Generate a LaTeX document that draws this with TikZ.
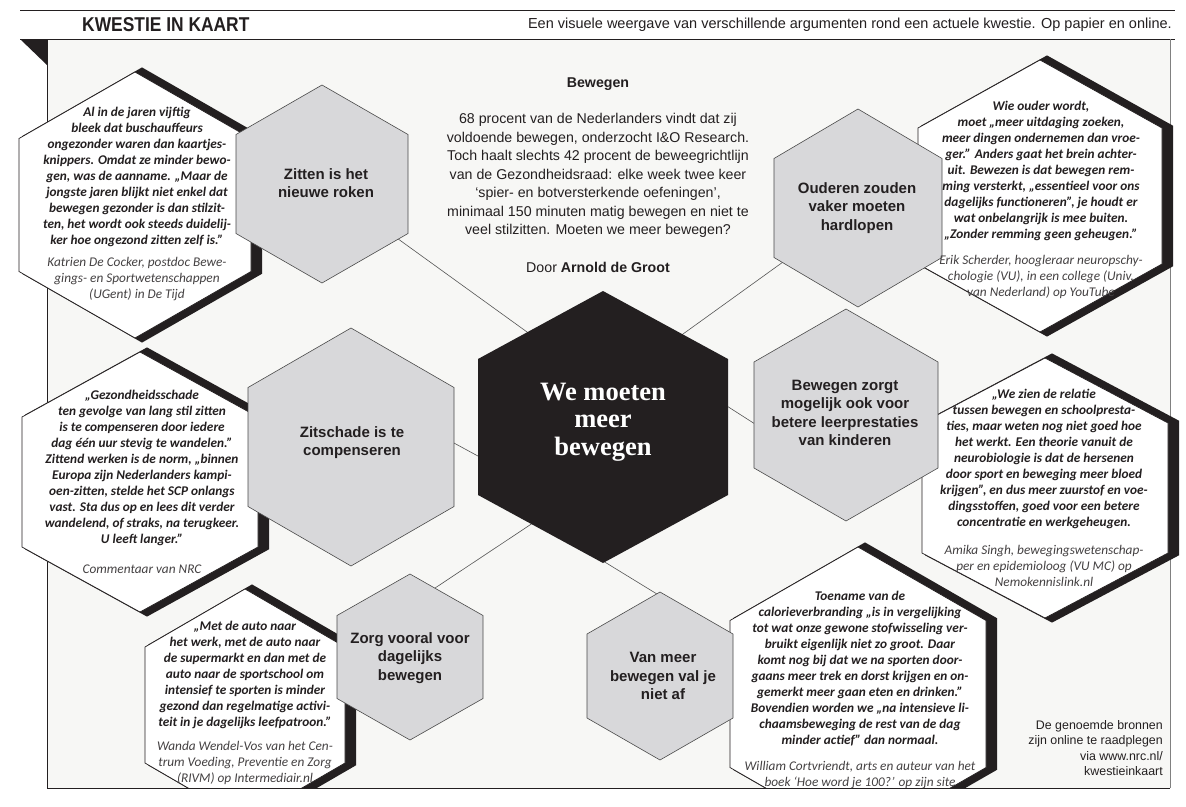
\documentclass[tikz,border=0pt]{standalone}
\usepackage{graphicx}
\usepackage{fontspec}
\setmainfont{Liberation Sans}
\newfontfamily\qfont{Carlito}
\newfontfamily\cfont{Liberation Serif}
\definecolor{panelbg}{HTML}{F7F7F5}
\definecolor{hexgrey}{HTML}{D8D8DA}
\definecolor{hexline}{HTML}{4A4A4A}
\definecolor{ink}{HTML}{231F20}
\definecolor{conn}{HTML}{555555}
\newcommand\hexshape[5][]{\path[#1] ({#2},{(#3)-(#5)}) -- ({(#2)+(#4)},{(#3)-(#5)/2}) -- ({(#2)+(#4)},{(#3)+(#5)/2}) -- ({#2},{(#3)+(#5)}) -- ({(#2)-(#4)},{(#3)+(#5)/2}) -- ({(#2)-(#4)},{(#3)-(#5)/2}) -- cycle;}
\newcommand\quotehex[4]{\hexshape[fill=ink]{#1+7}{#2}{#3+4}{#4+4.6}\hexshape[fill=white,draw=ink,line width=0.7pt]{#1}{#2}{#3}{#4}}
\tikzset{
  greyhex/.style={fill=hexgrey,draw=hexline,line width=0.6pt},
  qbody/.style={font=\qfont\bfseries\itshape\fontsize{13.3}{16}\selectfont,align=center,inner sep=0pt,text=ink},
  qsrc/.style={font=\qfont\itshape\fontsize{13.3}{16}\selectfont,align=center,inner sep=0pt,text=ink!85},
  glabel/.style={font=\bfseries\fontsize{15}{18.5}\selectfont,align=center,inner sep=0pt,text=ink},
  intro/.style={font=\fontsize{14.2}{18.5}\selectfont,align=center,inner sep=0pt,text=ink},
  connector/.style={draw=conn,line width=0.6pt}
}
\begin{document}
\begin{tikzpicture}[x=1pt,y=-1pt]
\useasboundingbox (0,0) rectangle (1186,806);
\fill[white] (0,0) rectangle (1186,806);
\fill[panelbg] (47,39) rectangle (1170,788);
% header
\draw[ink,line width=1pt] (20,10) -- (1175,10);
\draw[ink,line width=1pt] (20,39) -- (1175,39);
\fill[ink] (20,39) -- (47,39) -- (47,65) -- cycle;
\node[anchor=west,inner sep=0pt,font=\bfseries\fontsize{20}{20}\selectfont,text=ink] (title) at (82,25) {\scalebox{0.87}[1]{KWESTIE IN KAART}};
\node[anchor=east,inner sep=0pt,font=\fontsize{14.5}{14.5}\selectfont,text=ink] (subtitle) at (1172,25) {Een visuele weergave van verschillende argumenten rond een actuele kwestie. Op papier en online.};
% panel borders
\draw[ink,line width=0.8pt] (47,39) -- (47,788) -- (1170,788);
\draw[black!50,line width=0.8pt] (1170,39) -- (1170,788);
% connector anchor points
\coordinate (g1) at (322,184);
\coordinate (c1) at (588,376);
\coordinate (g2) at (858,208);
\coordinate (c2) at (633,370);
\coordinate (g3in) at (430,430);
\coordinate (c3) at (500,468);
\coordinate (c4) at (705,392);
\coordinate (g4in) at (780,440);
\coordinate (c5) at (560,505);
\coordinate (g5in) at (420,598);
\coordinate (c6) at (590,553);
\coordinate (g6in) at (670,602);
\draw[connector] (g1) -- (c1);
\draw[connector] (g2) -- (c2);
\draw[connector] (g3in) -- (c3);
\draw[connector] (c4) -- (g4in);
\draw[connector] (c5) -- (g5in);
\draw[connector] (c6) -- (g6in);
% hexagons
\begin{scope}
\clip (0,39) rectangle (1186,787.6);
\quotehex{135}{205}{116}{133}
\quotehex{1040}{196}{122}{136}
\quotehex{140}{482}{118}{130}
\quotehex{1045}{488}{123}{130}
\quotehex{245}{705}{100}{116}
\quotehex{858}{694}{128}{147}
\hexshape[greyhex]{322}{184}{86}{99}
\hexshape[greyhex]{858}{208}{84}{99}
\hexshape[greyhex]{351}{447}{103}{119}
\hexshape[greyhex]{846}{415}{92}{106}
\hexshape[greyhex]{410}{657}{73}{83}
\hexshape[greyhex]{660}{676}{73}{84}
\hexshape[fill=ink]{603}{427}{125}{136}
\end{scope}
% intro
\node[font=\bfseries\fontsize{14.2}{18.5}\selectfont,text=ink,inner sep=0pt] (bewtitle) at (598,84) {Bewegen};
\node[intro] (introtext) at (598,175.5) {68 procent van de Nederlanders vindt dat zij\\
voldoende bewegen, onderzocht I\&O Research.\\
Toch haalt slechts 42 procent de beweegrichtlijn\\
van de Gezondheidsraad: elke week twee keer\\
‘spier- en botversterkende oefeningen’,\\
minimaal 150 minuten matig bewegen en niet te\\
veel stilzitten. Moeten we meer bewegen?};
\node[intro] (byline) at (598,267) {Door \textbf{Arnold de Groot}};
% centre
\node[font=\cfont\bfseries\fontsize{26.5}{27.5}\selectfont,text=white,align=center,inner sep=0pt] (centre) at (603,422) {We moeten\\meer\\bewegen};
% grey labels
\node[glabel] (lab1) at (326,183) {Zitten is het\\nieuwe roken};
\node[glabel] (lab2) at (857,208) {Ouderen zouden\\vaker moeten\\hardlopen};
\node[glabel] (lab3) at (352,442.5) {Zitschade is te\\compenseren};
\node[glabel] (lab4) at (845,413) {Bewegen zorgt\\mogelijk ook voor\\betere leerprestaties\\van kinderen};
\node[glabel] (lab5) at (410,658) {Zorg vooral voor\\dagelijks\\bewegen};
\node[glabel] (lab6) at (663,676) {Van meer\\bewegen val je\\niet af};
% quotes
\node[qbody] (q1) at (137,177) {Al in de jaren vijftig\\
bleek dat buschauffeurs\\
ongezonder waren dan kaartjes-\\
knippers. Omdat ze minder bewo-\\
gen, was de aanname. „Maar de\\
jongste jaren blijkt niet enkel dat\\
bewegen gezonder is dan stilzit-\\
ten, het wordt ook steeds duidelij-\\
ker hoe ongezond zitten zelf is.”};
\node[qsrc] (s1) at (137,279) {Katrien De Cocker, postdoc Bewe-\\
gings- en Sportwetenschappen\\
(UGent) in De Tijd};
\node[qbody] (q2) at (1041,171) {Wie ouder wordt,\\
moet „meer uitdaging zoeken,\\
meer dingen ondernemen dan vroe-\\
ger.” Anders gaat het brein achter-\\
uit. Bewezen is dat bewegen rem-\\
ming versterkt, „essentieel voor ons\\
dagelijks functioneren”, je houdt er\\
wat onbelangrijk is mee buiten.\\
„Zonder remming geen geheugen.”};
\node[qsrc] (s2) at (1041,277) {Erik Scherder, hoogleraar neuropschy-\\
chologie (VU), in een college (Univ.\\
van Nederland) op YouTube};
\node[qbody] (q3) at (142,468) {„Gezondheidsschade\\
ten gevolge van lang stil zitten\\
is te compenseren door iedere\\
dag één uur stevig te wandelen.”\\
Zittend werken is de norm, „binnen\\
Europa zijn Nederlanders kampi-\\
oen-zitten, stelde het SCP onlangs\\
vast. Sta dus op en lees dit verder\\
wandelend, of straks, na terugkeer.\\
U leeft langer.”};
\node[qsrc] (s3) at (142,569) {Commentaar van NRC};
\node[qbody] (q4) at (1044,459) {„We zien de relatie\\
tussen bewegen en schoolpresta-\\
ties, maar weten nog niet goed hoe\\
het werkt. Een theorie vanuit de\\
neurobiologie is dat de hersenen\\
door sport en beweging meer bloed\\
krijgen”, en dus meer zuurstof en voe-\\
dingsstoffen, goed voor een betere\\
concentratie en werkgeheugen.};
\node[qsrc] (s4) at (1044,566) {Amika Singh, bewegingswetenschap-\\
per en epidemioloog (VU MC) op\\
Nemokennislink.nl};
\node[qbody] (q5) at (245,675) {„Met de auto naar\\
het werk, met de auto naar\\
de supermarkt en dan met de\\
auto naar de sportschool om\\
intensief te sporten is minder\\
gezond dan regelmatige activi-\\
teit in je dagelijks leefpatroon.”};
\node[qsrc] (s5) at (245,763) {Wanda Wendel-Vos van het Cen-\\
trum Voeding, Preventie en Zorg\\
(RIVM) op Intermediair.nl};
\node[qbody] (q6) at (860,669) {Toename van de\\
calorieverbranding „is in vergelijking\\
tot wat onze gewone stofwisseling ver-\\
bruikt eigenlijk niet zo groot. Daar\\
komt nog bij dat we na sporten door-\\
gaans meer trek en dorst krijgen en on-\\
gemerkt meer gaan eten en drinken.”\\
Bovendien worden we „na intensieve li-\\
chaamsbeweging de rest van de dag\\
minder actief” dan normaal.};
\node[qsrc] (s6) at (860,775) {William Cortvriendt, arts en auteur van het\\
boek ‘Hoe word je 100?’ op zijn site};
% note
\node[anchor=east,align=right,inner sep=0pt,font=\fontsize{12.4}{15.5}\selectfont,text=ink] (note) at (1163,748) {De genoemde bronnen\\zijn online te raadplegen\\via www.nrc.nl/\\kwestieinkaart};
\end{tikzpicture}
\end{document}
